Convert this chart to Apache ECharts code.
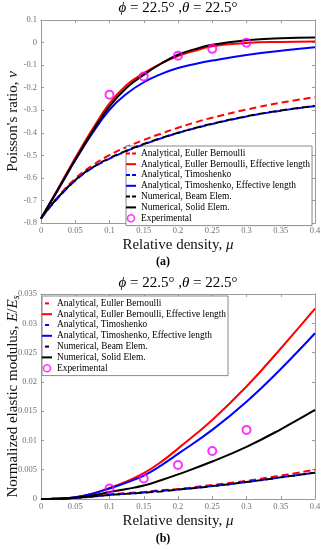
<!DOCTYPE html>
<html><head><meta charset="utf-8">
<script src="https://cdn.jsdelivr.net/npm/echarts@6/dist/echarts.min.js"></script>
<style>html,body{margin:0;padding:0;background:#fff}#c{width:326px;height:550px}</style>
</head><body><div id="c"></div>
<script>
// ---------- data ----------
const names = ['Analytical, Euller Bernoulli','Analytical, Euller Bernoulli, Effective length','Analytical, Timoshenko','Analytical, Timoshenko, Effective length','Numerical, Beam Elem.','Numerical, Solid Elem.','Experimental'];
const xTicks = [0,0.05,0.1,0.15,0.2,0.25,0.3,0.35,0.4];
const nuTicks = [-0.8,-0.7,-0.6,-0.5,-0.4,-0.3,-0.2,-0.1,0,0.1];
const eTicks = [0,0.005,0.01,0.015,0.02,0.025,0.03,0.035];

// (a) Poisson's ratio
const muA = [0,0.0125,0.025,0.05,0.075,0.1,0.125,0.15,0.175,0.2,0.225,0.25,0.3,0.35,0.4];
const nuEB     = [-0.78,-0.728,-0.683,-0.603,-0.545,-0.499,-0.463,-0.432,-0.404,-0.378,-0.354,-0.333,-0.297,-0.267,-0.242];
const nuEBeff  = [-0.78,-0.714,-0.647,-0.512,-0.385,-0.27,-0.188,-0.135,-0.093,-0.06,-0.036,-0.016,-0.002,0.003,0.005];
const nuTim    = [-0.78,-0.732,-0.688,-0.612,-0.556,-0.515,-0.481,-0.452,-0.425,-0.401,-0.38,-0.361,-0.328,-0.302,-0.282];
const nuTimEff = [-0.78,-0.716,-0.652,-0.522,-0.402,-0.298,-0.227,-0.176,-0.14,-0.113,-0.095,-0.08,-0.055,-0.036,-0.021];
const nuBeam   = [-0.78,-0.73,-0.686,-0.61,-0.554,-0.513,-0.479,-0.45,-0.424,-0.4,-0.379,-0.36,-0.327,-0.301,-0.281];
const nuSolid  = [-0.78,-0.715,-0.651,-0.52,-0.395,-0.283,-0.2,-0.143,-0.094,-0.054,-0.029,-0.01,0.01,0.019,0.022];
const expMu = [0.1,0.15,0.2,0.25,0.3];
const expNu = [-0.231,-0.15,-0.058,-0.028,-0.001];

// (b) Normalized elastic modulus
const muB = [0,0.025,0.05,0.075,0.1,0.125,0.15,0.175,0.2,0.25,0.3,0.35,0.4];
const eEB     = [0,0.00005,0.0002,0.0005,0.0008,0.001,0.0012,0.0015,0.0017,0.0024,0.0031,0.004,0.005];
const eEBeff  = [0,0.00004,0.0003,0.0009,0.0019,0.003,0.0044,0.0063,0.0086,0.0135,0.0192,0.0257,0.0325];
const eTim    = [0,0.00005,0.0002,0.0004,0.0007,0.0009,0.0011,0.0014,0.0016,0.0022,0.0029,0.0037,0.0045];
const eTimEff = [0,0.00004,0.0003,0.0009,0.0018,0.0028,0.004,0.0057,0.0077,0.0118,0.0166,0.0222,0.0283];
const eBeam   = [0,0.00005,0.0002,0.0004,0.0007,0.0009,0.0011,0.0013,0.0016,0.0022,0.0029,0.0037,0.0045];
const eSolid  = [0,0.00003,0.0002,0.0006,0.0012,0.0017,0.0023,0.0032,0.0042,0.0064,0.0089,0.0119,0.0152];
const expE = [0.0018,0.0035,0.0058,0.0082,0.0118];

// ---------- styling ----------
const SERIF = 'Liberation Serif';
const colors = ['#ff0000','#ff0000','#0000ff','#0000ff','#000000','#000000'];
const dashed = [true,false,true,false,true,false];
const fmt = v => String(+(+v).toFixed(4));

function axisBase(extra){
  return Object.assign({
    type:'value',
    axisLine:{show:true,onZero:false,lineStyle:{color:'#9a9a9a',width:1}},
    axisTick:{show:true,inside:true,length:3,lineStyle:{color:'#9a9a9a'}},
    splitLine:{show:false},
    axisLabel:{color:'#707070',fontSize:8.5,fontFamily:SERIF,formatter:fmt},
  }, extra);
}
const NF = 15;
const nameStyle = {fontFamily:SERIF,fontSize:NF,color:'#111',
  rich:{n:{fontFamily:SERIF,fontSize:NF,color:'#111'},
        i:{fontFamily:SERIF,fontSize:NF,fontStyle:'italic',color:'#111'},
        s:{fontFamily:SERIF,fontSize:10,fontStyle:'italic',color:'#111',verticalAlign:'bottom'}}};

const xName = '{n|Relative density, }{i|μ}';
const xAxes = [], yAxes = [];
function addAxes(gridIndex, ymin, ymax, yint, yname){
  xAxes.push(axisBase({gridIndex,min:0,max:0.4,interval:0.05,position:'bottom',
    name:xName,nameLocation:'middle',nameGap:15,nameMoveOverlap:false,nameTextStyle:nameStyle,
    axisLabel:{color:'#707070',fontSize:8.5,fontFamily:SERIF,formatter:fmt,margin:3}}));
  xAxes.push(axisBase({gridIndex,min:0,max:0.4,interval:0.05,position:'top',axisLabel:{show:false}}));
  yAxes.push(axisBase({gridIndex,min:ymin,max:ymax,interval:yint,position:'left',
    name:yname,nameLocation:'middle',nameGap:20,nameMoveOverlap:false,nameTextStyle:nameStyle,
    axisLabel:{color:'#707070',fontSize:8.5,fontFamily:SERIF,formatter:fmt,margin:4}}));
  yAxes.push(axisBase({gridIndex,min:ymin,max:ymax,interval:yint,position:'right',axisLabel:{show:false}}));
}
addAxes(0, nuTicks[0], nuTicks[nuTicks.length-1], 0.1, "{n|Poisson's ratio, }{i|ν}");
addAxes(1, eTicks[0], eTicks[eTicks.length-1], 0.005, '{n|Normalized elastic modulus, }{i|E}{n|/}{i|E}{s|s}');

function lineSeries(k, axisIdx, xs, ys){
  return {type:'line',name:names[k],xAxisIndex:axisIdx,yAxisIndex:axisIdx,
    data:xs.map((x,i)=>[x,ys[i]]),smooth:0.45,symbol:'none',
    lineStyle:{color:colors[k],width:2,type:dashed[k]?[7,4]:'solid',dashOffset:k===4?5:0},
    itemStyle:{color:colors[k]},silent:true,animation:false,z:2+k};
}
function expSeries(axisIdx, ys){
  return {type:'scatter',name:names[6],xAxisIndex:axisIdx,yAxisIndex:axisIdx,
    data:expMu.map((x,i)=>[x,ys[i]]),symbol:'circle',symbolSize:8,
    itemStyle:{color:'rgba(255,255,255,0)',borderColor:'#ff00ff',borderWidth:2},
    silent:true,animation:false,z:10};
}
const A = [nuEB,nuEBeff,nuTim,nuTimEff,nuBeam,nuSolid];
const B = [eEB,eEBeff,eTim,eTimEff,eBeam,eSolid];
const series = [];
A.forEach((ys,k)=>series.push(lineSeries(k,0,muA,ys)));
series.push(expSeries(0,expNu));
B.forEach((ys,k)=>series.push(lineSeries(k,2,muB,ys)));
series.push(expSeries(2,expE));

function legendData(w, top){
  const dash = top ? 'path://M0,0h4v2h-4zM6,0h4v2h-4z' : 'path://M0,0M3,0h4v2h-4zM10,2';
  const solid = 'path://M0,0h'+w+'v2h-'+w+'z';
  return names.map((n,k)=> k<6 ? {name:n,icon:dashed[k]?dash:solid}
    : {name:n,icon:'circle',itemStyle:{color:'#ffffff',borderColor:'#ff00ff',borderWidth:1.6}});
}
const legendCommon = {orient:'vertical',selectedMode:false,backgroundColor:'#ffffff',
  borderColor:'#8a8a8a',borderWidth:1,itemHeight:7,itemGap:0,symbolKeepAspect:true,
  itemStyle:{borderWidth:0},
  textStyle:{fontFamily:SERIF,fontSize:9.4,color:'#000',lineHeight:10.8}};

const TF = 15;
const titleStyle = {fontFamily:SERIF,fontSize:TF,fontWeight:'normal',color:'#000',
  rich:{n:{fontFamily:SERIF,fontSize:TF,color:'#000'},i:{fontFamily:SERIF,fontSize:TF,fontStyle:'italic',color:'#000'}}};
const titleText = '{i|ϕ}{n| = 22.5° ,}{i|θ}{n| = 22.5°}';

const option = {
  animation:false,
  backgroundColor:'#ffffff',
  title:[
    {text:titleText,left:178,top:1,textAlign:'center',padding:0,textStyle:titleStyle},
    {text:titleText,left:178,top:276,textAlign:'center',padding:0,textStyle:titleStyle},
    {text:'(a)',left:163,top:256,textAlign:'center',padding:0,textStyle:{fontFamily:SERIF,fontSize:12,fontWeight:'bold',color:'#000'}},
    {text:'(b)',left:163,top:533,textAlign:'center',padding:0,textStyle:{fontFamily:SERIF,fontSize:12,fontWeight:'bold',color:'#000'}}
  ],
  grid:[
    {left:41,top:20,width:274,height:203,containLabel:false,outerBoundsMode:'none'},
    {left:41,top:294,width:274,height:205,containLabel:false,outerBoundsMode:'none'}
  ],
  xAxis:xAxes,
  yAxis:yAxes,
  legend:[
    Object.assign({},legendCommon,{left:126,top:146,itemWidth:10,padding:[2,2,2,0],data:legendData(10,true)}),
    Object.assign({},legendCommon,{left:42,top:296,itemWidth:10,padding:[2,2,2,0],data:legendData(10,false)})
  ],
  series:series
};
const chart = echarts.init(document.getElementById('c'),null,{renderer:'canvas'});
chart.setOption(option);
</script></body></html>
